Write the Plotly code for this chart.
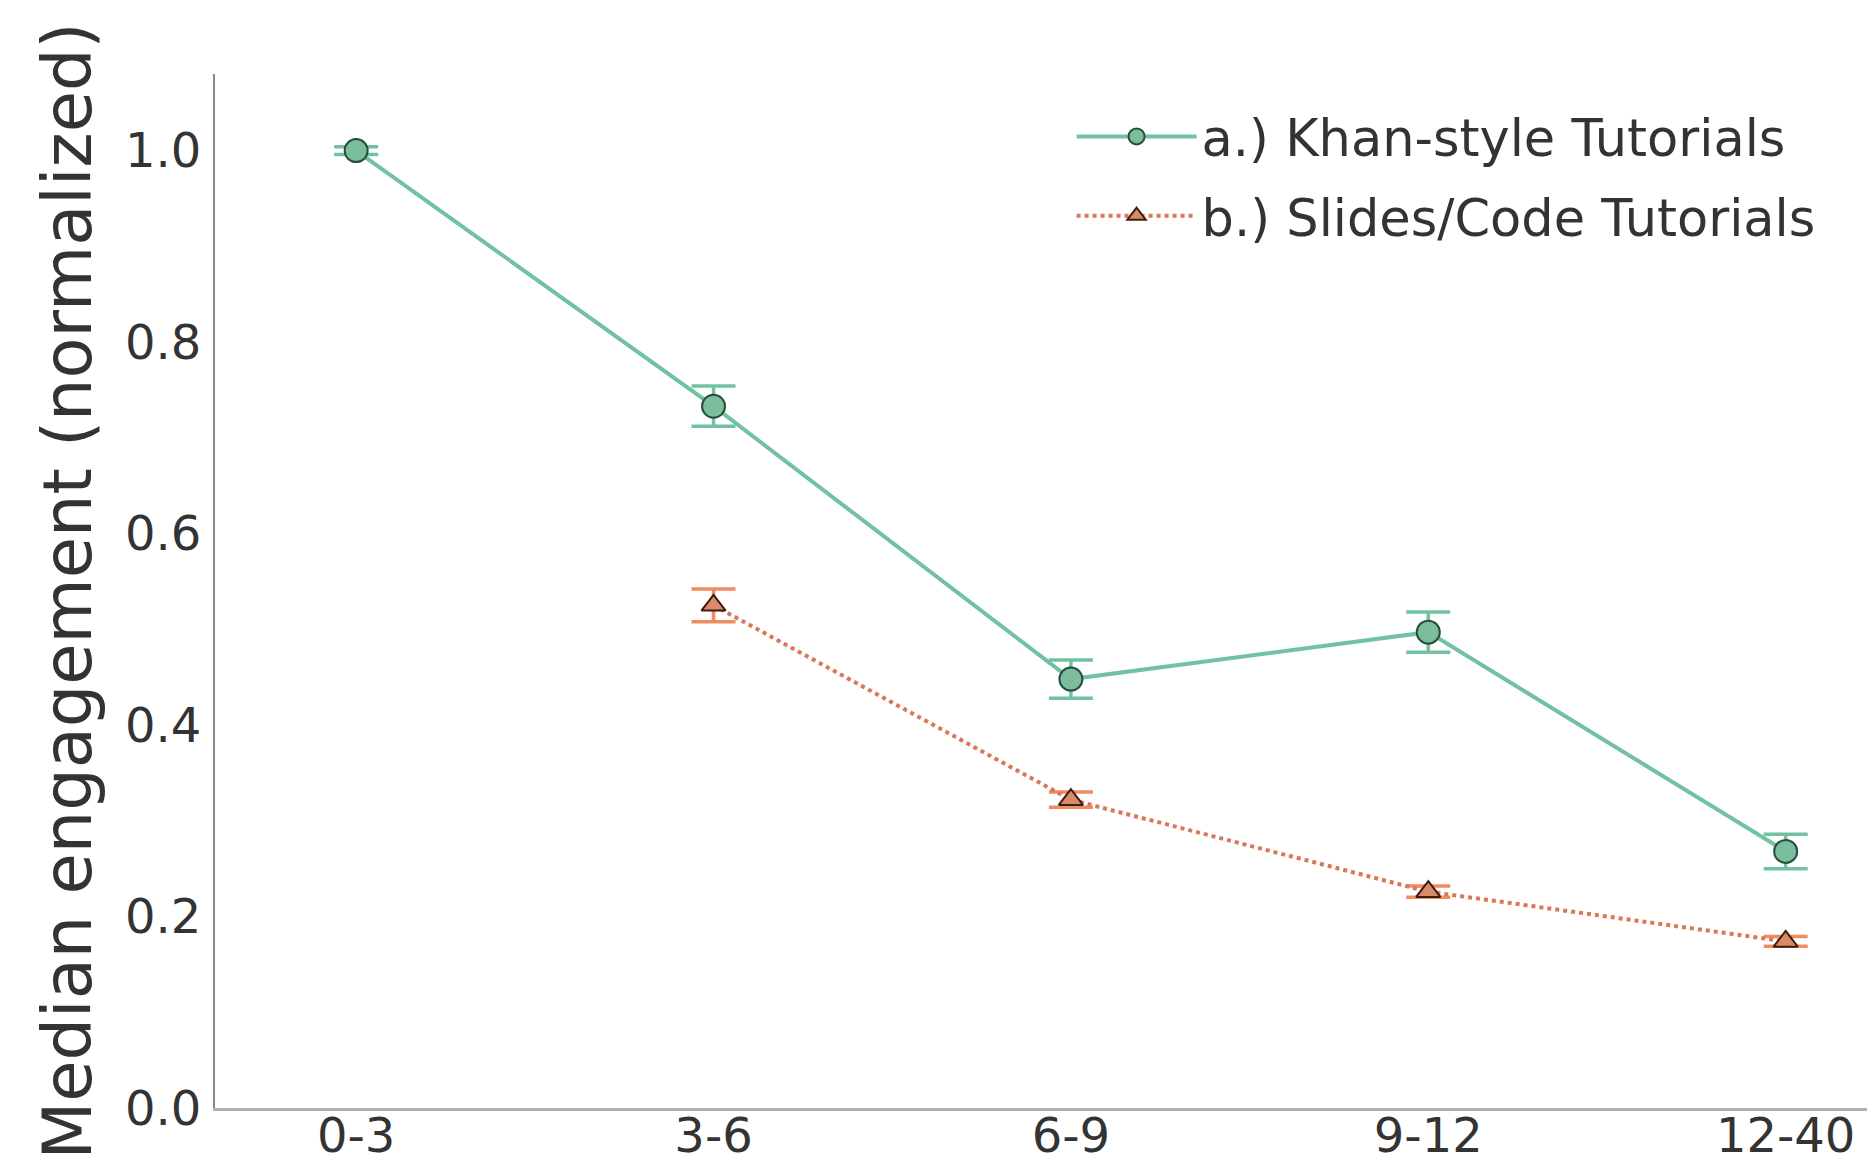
import plotly.graph_objects as go

categories = ["0-3", "3-6", "6-9", "9-12", "12-40"]
khan_values = [1.0, 0.733, 0.448, 0.497, 0.268]
khan_errors = [0.004, 0.021, 0.020, 0.021, 0.018]
slides_categories = ["3-6", "6-9", "9-12", "12-40"]
slides_values = [0.525, 0.322, 0.226, 0.174]
slides_errors = [0.017, 0.008, 0.006, 0.005]
y_ticks = [0.0, 0.2, 0.4, 0.6, 0.8, 1.0]

GREEN = "#72c2a2"
ORANGE = "#f08b62"

fig = go.Figure()
fig.add_trace(go.Scatter(
    x=categories, y=khan_values, name="a.) Khan-style Tutorials",
    mode="lines+markers", legendgroup="a",
    line=dict(color=GREEN, width=4),
    marker=dict(symbol="circle", size=23, color="#7bbd9c",
                line=dict(color="#24503b", width=2)),
    error_y=dict(type="data", array=khan_errors, color=GREEN, thickness=3.5, width=22),
))
fig.add_trace(go.Scatter(
    x=slides_categories, y=slides_values, name="b.) Slides/Code Tutorials",
    mode="lines+markers", legendgroup="b",
    line=dict(color="#d9775a", width=4, dash="dot"),
    marker=dict(symbol="triangle-up", size=21, color="#d98a66",
                line=dict(color="#3f1d10", width=2)),
    error_y=dict(type="data", array=slides_errors, color=ORANGE, thickness=3.5, width=22),
))

# the page body adds an 8px offset, so the figure is sized to fit inside the window
fig.update_layout(
    width=1867, height=1165,
    paper_bgcolor="white", plot_bgcolor="white",
    margin=dict(l=207, r=0, t=66, b=65),
    font=dict(family="DejaVu Sans", color="#333333"),
    showlegend=True,
    legend=dict(x=0.516, y=0.978, xanchor="left", yanchor="top",
                font=dict(size=51, color="#333333"),
                bgcolor="rgba(255,255,255,0)", itemwidth=120,
                traceorder="grouped", tracegroupgap=10),
    xaxis=dict(
        type="category", categoryorder="array", categoryarray=categories,
        range=[-0.395, 4.25], showgrid=False, zeroline=False, automargin=False,
        showline=True, linecolor="#b0b0b0", linewidth=3,
        ticks="", tickfont=dict(size=48, color="#333333"),
        ticklabelstandoff=-17,
    ),
    yaxis=dict(
        range=[0, 1.08], tickvals=y_ticks, ticktext=[f"{v:.1f}" for v in y_ticks],
        showgrid=False, zeroline=False, showline=True, linecolor="#888888", linewidth=2,
        automargin=False,
        ticks="", tickfont=dict(size=48, color="#333333"), ticklabelstandoff=2,
        title=dict(text="Median engagement (normalized)", font=dict(size=67, color="#333333"),
                   standoff=12),
    ),
)

fig.write_html("out.html")
